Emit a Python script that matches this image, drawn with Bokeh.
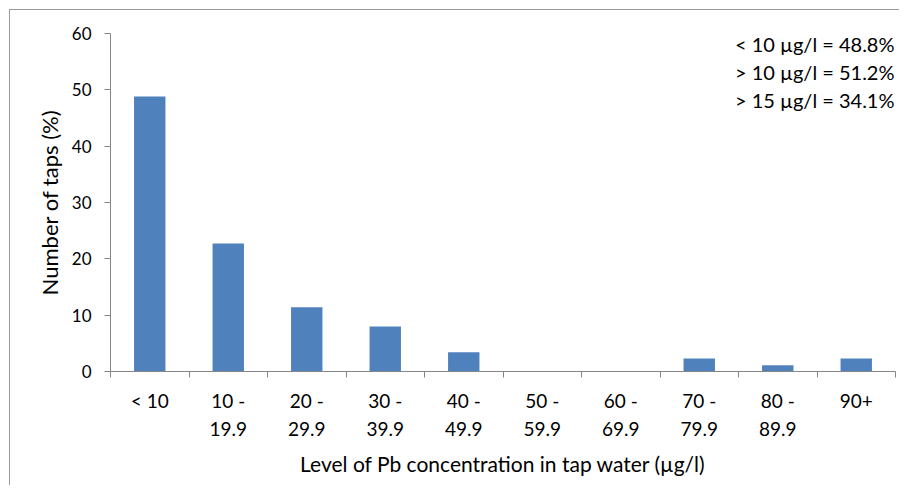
from bokeh.plotting import figure
from bokeh.models import FixedTicker, LinearAxis, Range1d, ColumnDataSource, Grid
from bokeh.core.properties import value
from bokeh.embed import file_html
from bokeh.resources import INLINE

categories = ["< 10", "10 -\n19.9", "20 -\n29.9", "30 -\n39.9", "40 -\n49.9",
              "50 -\n59.9", "60 -\n69.9", "70 -\n79.9", "80 -\n89.9", "90+"]
percent_taps = [48.8, 22.7, 11.4, 8.0, 3.4, 0.0, 0.0, 2.3, 1.1, 2.3]
y_ticks = [0, 10, 20, 30, 40, 50, 60]
annotations = ["< 10 \u00b5g/l = 48.8%", "> 10 \u00b5g/l = 51.2%", "> 15 \u00b5g/l = 34.1%"]

FONT = "Lato"
GRID = "#868686"
BAR = "#4F81BD"

n = len(categories)
centers = [i + 0.5 for i in range(n)]
bounds = list(range(n + 1))

p = figure(width=890, height=476, output_backend="svg", toolbar_location=None,
           x_range=Range1d(0, n), y_range=Range1d(0, 60),
           min_border_left=100, min_border_right=5, min_border_top=23, min_border_bottom=115,
           x_axis_location=None, y_axis_location=None)
p.styles = {"margin-left": "9px", "margin-top": "9px",
            "border-left": "1px solid #9a9a9a", "border-top": "1px solid #9a9a9a"}
p.outline_line_color = None
p.background_fill_color = "white"
p.border_fill_color = "white"

g = Grid(dimension=1, ticker=FixedTicker(ticks=y_ticks), grid_line_color=GRID, grid_line_width=1)
p.add_layout(g)

src = ColumnDataSource(dict(x=centers, top=percent_taps))
p.vbar(x="x", top="top", bottom=0, width=0.4, source=src, fill_color=BAR, line_color=None)

# y axis
yax = LinearAxis(ticker=FixedTicker(ticks=y_ticks))
yax.axis_line_color = GRID
yax.major_tick_line_color = GRID
yax.major_tick_in = 0
yax.major_tick_out = 6
yax.minor_tick_line_color = None
yax.major_label_text_font = FONT
yax.major_label_text_font_size = "17px"
yax.major_label_text_color = "black"
yax.major_label_standoff = 13
yax.axis_label = "Number of taps (%)"
yax.axis_label_text_font = FONT
yax.axis_label_text_font_size = "22px"
yax.axis_label_text_font_style = "normal"
yax.axis_label_text_color = "black"
yax.axis_label_standoff = 6
p.add_layout(yax, "left")

# x axis: boundary ticks (no labels)
xax = LinearAxis(ticker=FixedTicker(ticks=bounds))
xax.major_label_overrides = {b: "" for b in bounds}
xax.axis_line_color = GRID
xax.major_tick_line_color = GRID
xax.major_tick_in = 0
xax.major_tick_out = 6
xax.minor_tick_line_color = None
xax.major_label_text_font = FONT
xax.major_label_text_font_size = "1px"
xax.major_label_standoff = 0
p.add_layout(xax, "below")

# x axis: category labels
xlab = LinearAxis(ticker=FixedTicker(ticks=centers))
xlab.major_label_overrides = {c: lab for c, lab in zip(centers, categories)}
xlab.axis_line_color = None
xlab.major_tick_line_color = None
xlab.minor_tick_line_color = None
xlab.major_tick_in = 0
xlab.major_tick_out = 0
xlab.major_label_text_font = FONT
xlab.major_label_text_font_size = "19px"
xlab.major_label_text_color = "black"
xlab.major_label_text_line_height = 1.25
xlab.major_label_standoff = 11
xlab.axis_label = "Level of Pb concentration in tap water (\u00b5g/l)"
xlab.axis_label_text_font = FONT
xlab.axis_label_text_font_size = "21px"
xlab.axis_label_text_font_style = "normal"
xlab.axis_label_text_color = "black"
xlab.axis_label_standoff = 8
p.add_layout(xlab, "below")

p.xgrid.visible = False
p.ygrid.visible = False

ann_src = ColumnDataSource(dict(x=[n] * 3, y=[60] * 3, text=annotations, off=[10, 38, 66]))
p.text(x="x", y="y", text="text", y_offset="off", x_offset=-1, source=ann_src,
       text_align="right", text_baseline="middle", text_font=value(FONT),
       text_font_size="20px", text_color="black")

open("out.html", "w").write(file_html(p, INLINE))
